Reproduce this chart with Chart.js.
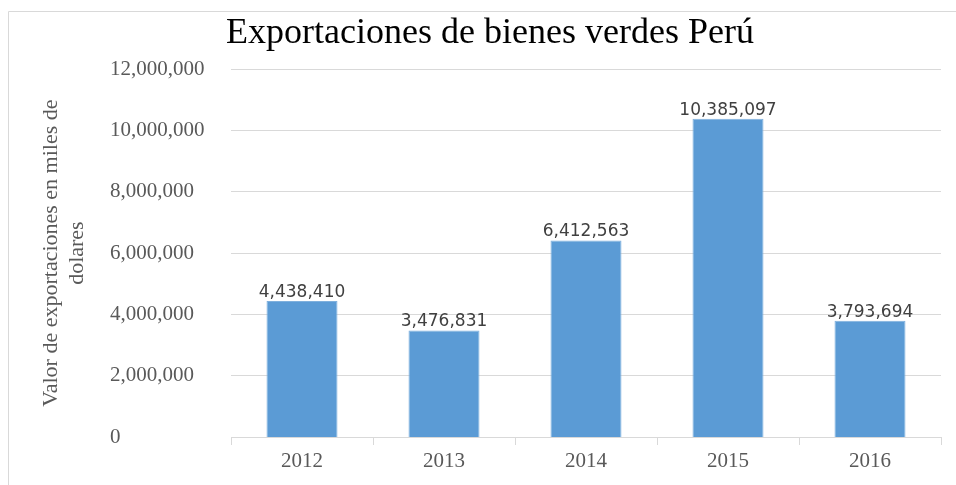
<!DOCTYPE html>
<html>
<head>
<meta charset="utf-8">
<script src="https://cdn.jsdelivr.net/npm/chart.js@4"></script>
<style>
  html, body { margin: 0; padding: 0; background: #fff; }
  #wrap { width: 956px; height: 485px; }
</style>
</head>
<body>
<div id="wrap"><canvas id="chart" width="956" height="485"></canvas></div>
<script>
const years = ['2012', '2013', '2014', '2015', '2016'];
const exportValues = [4438410, 3476831, 6412563, 10385097, 3793694];
const yTicks = [0, 2000000, 4000000, 6000000, 8000000, 10000000, 12000000];
const chartTitle = 'Exportaciones de bienes verdes Perú';
const yTitle = ['Valor de exportaciones en miles de', 'dolares'];

const gridColor = '#d9d9d9';
const fmt = v => v.toLocaleString('en-US');

// light frame on the top and left edges, like the cropped screenshot
const framePlugin = {
  id: 'frame',
  beforeDraw(chart) {
    const ctx = chart.ctx;
    ctx.save();
    ctx.strokeStyle = gridColor;
    ctx.lineWidth = 1;
    ctx.beginPath();
    ctx.moveTo(8.5, chart.height);
    ctx.lineTo(8.5, 11.5);
    ctx.lineTo(chart.width, 11.5);
    ctx.stroke();
    ctx.restore();
  }
};

// value labels above the bars
const valueLabels = {
  id: 'valueLabels',
  afterDatasetsDraw(chart) {
    const ctx = chart.ctx;
    const meta = chart.getDatasetMeta(0);
    ctx.save();
    ctx.font = '17px "DejaVu Sans"';
    ctx.fillStyle = '#404040';
    ctx.textAlign = 'center';
    ctx.textBaseline = 'alphabetic';
    meta.data.forEach((bar, i) => {
      ctx.fillText(fmt(exportValues[i]), bar.x, bar.y - 4);
    });
    ctx.restore();
  }
};

const ctx = document.getElementById('chart').getContext('2d');
new Chart(ctx, {
  type: 'bar',
  data: {
    labels: years,
    datasets: [{
      label: 'Exportaciones',
      data: exportValues,
      backgroundColor: '#5b9bd5',
      borderColor: '#7fb0dd',
      borderWidth: 1,
      barPercentage: 0.5,
      categoryPercentage: 1
    }]
  },
  options: {
    responsive: false,
    animation: false,
    layout: {
      padding: { left: 39, right: 15, top: 0, bottom: 0 }
    },
    plugins: {
      legend: { display: false },
      tooltip: { enabled: false },
      title: {
        display: true,
        text: chartTitle,
        color: '#000',
        fullSize: true,
        font: { family: '"Liberation Serif"', size: 36, weight: 'normal', lineHeight: 1.2 },
        padding: { top: 12, bottom: 14 }
      }
    },
    scales: {
      x: {
        grid: {
          offset: true,
          drawOnChartArea: false,
          drawTicks: true,
          tickLength: 8,
          color: gridColor
        },
        border: { display: true, color: gridColor },
        ticks: {
          color: '#595959',
          padding: 4,
          font: { family: '"Liberation Serif"', size: 21 }
        },
        afterFit(scale) { scale.height = 48; }
      },
      // outer left axis only carries the two-line axis title
      yTitle: {
        position: 'left',
        weight: 1,
        min: 0,
        max: 12000000,
        grid: { display: false },
        border: { display: false },
        ticks: { display: false },
        title: {
          display: true,
          text: yTitle,
          color: '#595959',
          font: { family: '"Liberation Serif"', size: 22, lineHeight: 1.15 },
          padding: { top: 0, bottom: 0 }
        },
        afterFit(scale) { scale.width = 71; }
      },
      y: {
        position: 'left',
        weight: 0,
        min: 0,
        max: 12000000,
        afterBuildTicks(scale) {
          scale.ticks = yTicks.map(v => ({ value: v }));
        },
        grid: { color: gridColor, drawTicks: false },
        border: { display: false },
        ticks: {
          crossAlign: 'far',
          color: '#595959',
          font: { family: '"Liberation Serif"', size: 21 },
          callback: v => fmt(v)
        },
        afterFit(scale) { scale.width = 121; }
      }
    }
  },
  plugins: [framePlugin, valueLabels]
});
</script>
</body>
</html>
